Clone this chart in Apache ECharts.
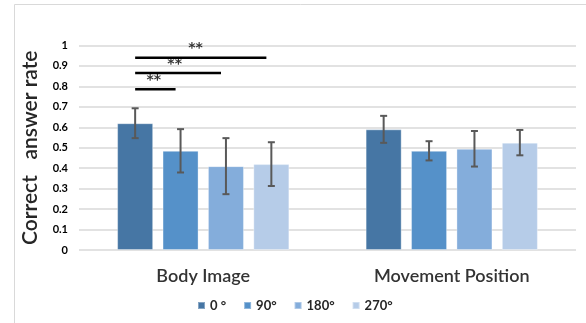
<!DOCTYPE html>
<html><head><meta charset="utf-8">
<script src="https://cdn.jsdelivr.net/npm/echarts@6/dist/echarts.min.js"></script>
<style>html,body{margin:0;padding:0;background:#fff}#c{width:586px;height:323px}</style>
</head><body><div id="c"></div>
<script>
const categories = ['Body Image', 'Movement Position'];
const seriesNames = ['0 °', '90°', '180°', '270°'];
const values0 = [0.62, 0.59];
const values90 = [0.485, 0.485];
const values180 = [0.41, 0.495];
const values270 = [0.42, 0.525];
const err0 = [0.073, 0.066];
const err90 = [0.106, 0.047];
const err180 = [0.137, 0.087];
const err270 = [0.107, 0.062];
const yTicks = [0, 0.1, 0.2, 0.3, 0.4, 0.5, 0.6, 0.7, 0.8, 0.9, 1];
// significance brackets: [from bar, to bar] in Body Image group, level, label
const sigFrom = [0, 0, 0];
const sigTo = [1, 2, 3];
const sigLevel = [0.786, 0.865, 0.94];
const sigLabel = ['**', '**', '**'];

const colors = ['#4676A4', '#5591C9', '#84ADDB', '#B6CCE8'];
const allValues = [values0, values90, values180, values270];
const allErr = [err0, err90, err180, err270];

const BW = 0.145, GAP = 0.26;
function barOffset(i) {
  const gap = BW * GAP;
  const total = 4 * BW + 3 * gap;
  return -total / 2 + BW / 2 + i * (BW + gap);
}

const chart = echarts.init(document.getElementById('c'));
const series = [];
seriesNames.forEach((n, i) => {
  series.push({
    name: n, type: 'bar', data: allValues[i], barWidth: (BW * 100) + '%', barGap: (GAP * 100) + '%',
    itemStyle: { color: colors[i], borderColor: 'rgba(255,255,255,0.35)', borderWidth: 1 },
    xAxisIndex: 0, yAxisIndex: 0, z: 2
  });
});
seriesNames.forEach((n, i) => {
  series.push({
    type: 'custom', xAxisIndex: 0, yAxisIndex: 0, z: 5, silent: true,
    data: allValues[i].map((v, k) => [k, v - allErr[i][k], v + allErr[i][k]]),
    renderItem: function (params, api) {
      const band = api.size([1, 0])[0];
      const c = api.coord([api.value(0), 0]);
      const x = c[0] + barOffset(i) * band;
      const lo = api.coord([api.value(0), api.value(1)])[1];
      const hi = api.coord([api.value(0), api.value(2)])[1];
      const st = { stroke: '#595959', lineWidth: 2 };
      const cw = 3.5;
      return { type: 'group', children: [
        { type: 'line', shape: { x1: x, y1: lo, x2: x, y2: hi }, style: st },
        { type: 'line', shape: { x1: x - cw, y1: lo, x2: x + cw, y2: lo }, style: st },
        { type: 'line', shape: { x1: x - cw, y1: hi, x2: x + cw, y2: hi }, style: st }
      ]};
    }
  });
});
const sigLineData = [];
const sigStarData = [];
for (let k = 0; k < sigFrom.length; k++) {
  const a = 0.5 + barOffset(sigFrom[k]);
  const b = 0.5 + barOffset(sigTo[k]) - 0.02;
  sigLineData.push([a, sigLevel[k]], [b, sigLevel[k]], [null, null]);
  sigStarData.push([(a + b) / 2 - (b - a) * 0.04, sigLevel[k], sigLabel[k]]);
}
series.push({
  type: 'line', xAxisIndex: 1, yAxisIndex: 0, data: sigLineData, symbol: 'none', connectNulls: false,
  lineStyle: { color: '#000', width: 2.5 }, silent: true, z: 6
});
series.push({
  type: 'scatter', xAxisIndex: 1, yAxisIndex: 0, data: sigStarData, symbolSize: 0, silent: true, z: 6,
  label: { show: true, position: 'top', distance: 2, formatter: p => p.value[2], fontSize: 14, fontWeight: 'bold', color: '#000', fontFamily: 'DejaVu Sans' }
});

chart.setOption({
  animation: false,
  color: colors,
  graphic: [{ type: 'rect', shape: { x: 14.5, y: 4.5, width: 600, height: 400 }, style: { fill: 'none', stroke: '#d9d9d9', lineWidth: 1 }, z: -1 }],
  grid: { left: 79, right: 10, top: 45.5, bottom: 73 },
  legend: {
    data: seriesNames, bottom: 6, left: 192, itemWidth: 7, itemHeight: 7, itemGap: 17,
    icon: 'rect', textStyle: { fontSize: 13, fontWeight: 'bold', color: '#262626', fontFamily: 'Lato' }
  },
  xAxis: [{
    type: 'category', data: categories,
    axisLine: { show: false }, axisTick: { show: false },
    axisLabel: { fontSize: 18, fontWeight: 600, color: '#333', margin: 17, fontFamily: 'Lato' }
  }, {
    type: 'value', min: 0, max: 2, show: false
  }],
  yAxis: {
    type: 'value', min: 0, max: 1, interval: 0.1,
    name: 'Correct   answer rate', nameLocation: 'middle', nameGap: 38, nameRotate: 90,
    nameTextStyle: { fontSize: 21, fontWeight: 600, color: '#262626', fontFamily: 'Lato' },
    axisLabel: { fontSize: 11, fontWeight: 'bold', color: '#000', margin: 11, fontFamily: 'Lato',
      formatter: v => { const t = yTicks.find(x => Math.abs(x - v) < 1e-9); return t === undefined ? '' : String(t); } },
    splitLine: { lineStyle: { color: '#d9d9d9', width: 1.5 } },
    axisLine: { show: false }, axisTick: { show: false }
  },
  series: series
});
</script></body></html>
